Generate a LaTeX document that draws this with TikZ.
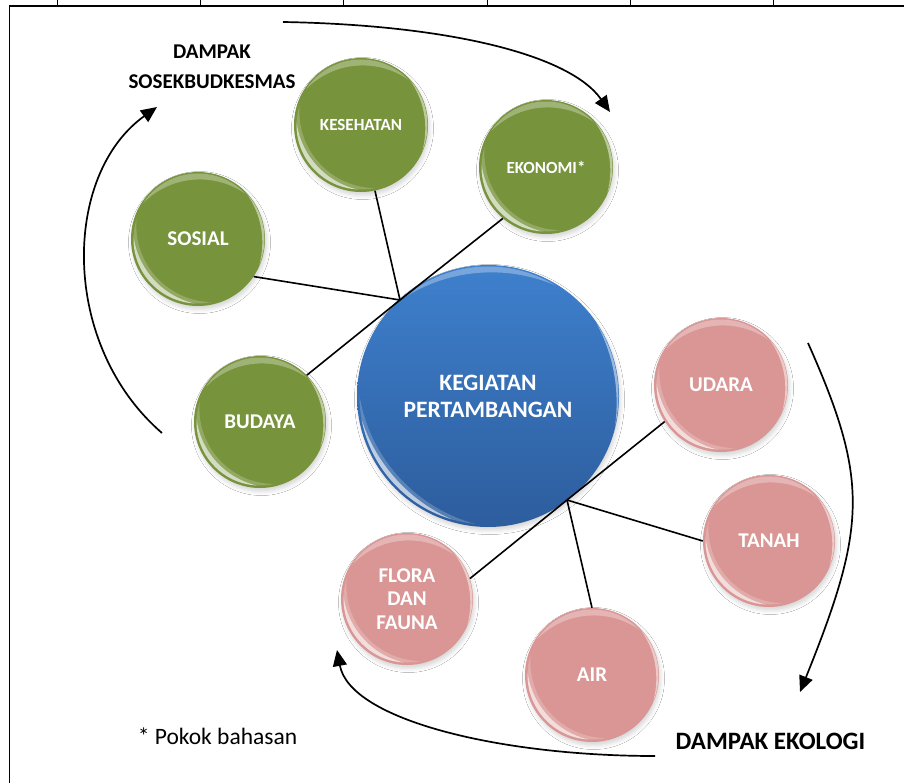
\documentclass[tikz,border=0pt]{standalone}
\usepackage{fontspec}
\setmainfont{Carlito}
\usetikzlibrary{arrows.meta,shadows.blur}

\definecolor{leaf}{HTML}{77933C}
\definecolor{rose}{HTML}{D99694}
\definecolor{deepTop}{HTML}{3E80CD}
\definecolor{deepBot}{HTML}{2D5D9D}

% radius of the ball being drawn (used by the sheen in path picture)
\newcommand\gbR{67}
% \gball{name}{x}{y}{radius}{fill style}{font size}{leading}{label}
\newcommand\gball[8]{%
  \renewcommand\gbR{#4}%
  \node[gball, minimum size={2*#4pt}, #5,
        font=\bfseries\fontsize{#6}{#7}\selectfont] (#1) at (#2,#3) {#8};}

% a crescent of light: inset, thickness, direction (angle), opacity
\newcommand\sheen[4]{%
  \begin{scope}
    \clip (path picture bounding box.center) circle ({\gbR-#1});
    \fill[white, opacity=#4, even odd rule]
      (path picture bounding box.center) circle ({2*\gbR})
      ([shift={({-0.3*\gbR*cos(#3)},{0.3*\gbR*sin(#3)})}]path picture bounding box.center)
        circle ({1.3*\gbR-#1-#2});
  \end{scope}}

\begin{document}
\begin{tikzpicture}[x=1pt, y=-1pt,
  gball/.style={circle, inner sep=0pt, text=white, align=center,
    blur shadow={shadow xshift=1.5pt, shadow yshift=-3.5pt,
                 shadow blur radius=4pt, shadow opacity=16},
    path picture={
      \sheen{2.5}{8}{222}{0.2}%
      \sheen{2.5}{4.5}{222}{0.6}%
      \sheen{1.5}{6}{95}{0.3}%
      \sheen{0.5}{2.5}{10}{0.5}%
    }},
  link/.style={line width=1.6pt},
  flow/.style={line width=1.7pt, -{Triangle[length=16pt,width=14pt]}},
  caption/.style={text=black, inner sep=0pt, align=center}]

\useasboundingbox (0,0) rectangle (904,783);
\fill[white] (0,0) rectangle (904,783);

% frame of the table cell
\draw[line width=1.8pt] (9.5,783) -- (9.5,6) -- (904,6);
\foreach \tx in {57,200,343,487,630,773}
  \draw[line width=0.8pt] (\tx,0) -- (\tx,6);

% social side
\gball{kesehatan}{361}{125}{67}{fill=leaf}{17}{20}{KESEHATAN}
\gball{ekonomi}{546}{167}{67}{fill=leaf}{17}{20}{EKONOMI*}
\gball{sosial}{198}{239}{67}{fill=leaf}{21}{23.5}{SOSIAL}
\gball{budaya}{260}{422}{66}{fill=leaf}{21}{23.5}{BUDAYA}

% mining activity
\gball{pusat}{488}{396}{131}{top color=deepTop, bottom color=deepBot}{23.5}{27}{KEGIATAN\\PERTAMBANGAN}

% ecological side
\gball{udara}{721}{385}{67}{fill=rose}{21}{23.5}{UDARA}
\gball{tanah}{769}{541}{66}{fill=rose}{21}{23.5}{TANAH}
\gball{air}{592}{675}{67}{fill=rose}{21}{23.5}{AIR}
\gball{flora}{407}{599}{66}{fill=rose}{21}{23.5}{FLORA\\DAN\\FAUNA}

% junctions on the rim of the centre ball
\coordinate (j1) at (400,300);
\coordinate (j2) at (567,500);

\draw[link] (ekonomi.-130) -- (j1) -- (budaya.45);
\draw[link] (sosial.-34) -- (j1);
\draw[link] (kesehatan.-78) -- (j1);
\draw[link] (udara.-147) -- (j2) -- (flora.18);
\draw[link] (tanah.180) -- (j2);
\draw[link] (air.90) -- (j2);

% cycle arrows
\coordinate (a1s) at (283,22);  \coordinate (a1e) at (610,112);
\coordinate (a2s) at (162,433); \coordinate (a2e) at (157,107);
\coordinate (a3s) at (808,343); \coordinate (a3e) at (800,692);
\coordinate (a4s) at (655,756); \coordinate (a4e) at (337,650);
\draw[flow] (a1s) .. controls (450,25) and (570,55) .. (a1e);
\draw[flow] (a2s) .. controls (60,345) and (62,175) .. (a2e);
\draw[flow] (a3s) .. controls (869,480) and (867,526) .. (a3e);
\draw[flow] (a4s) .. controls (500,756) and (350,720) .. (a4e);

% captions
\node[caption, font=\bfseries\fontsize{21}{30}\selectfont] (judulsos) at (212,66.5)
  {DAMPAK\\SOSEKBUDKESMAS};
\node[caption, anchor=base, font=\bfseries\fontsize{25}{30}\selectfont] (judulekol) at (770.5,749)
  {DAMPAK EKOLOGI};
\node[caption, anchor=base, font=\fontsize{23.5}{28}\selectfont] (catatan) at (217.5,744)
  {* Pokok bahasan};
\end{tikzpicture}
\end{document}
